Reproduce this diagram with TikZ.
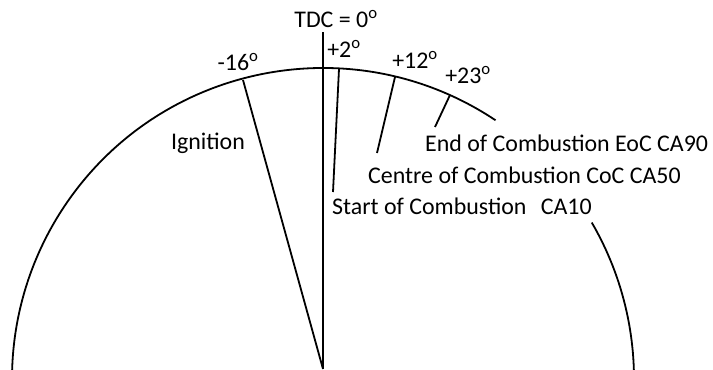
\documentclass[tikz,border=0pt]{standalone}
\usepackage{fontspec}
\setmainfont{Carlito}
\usepackage{tikz}
\usetikzlibrary{positioning,calc}

\tikzset{
  crank/.style={line width=1.8bp, black},
  lbl/.style={font=\fontsize{24}{26}\selectfont, inner sep=1bp},
  phase/.style={lbl, anchor=west}
}
\newcommand{\dg}{\textsuperscript{o}}

\begin{document}
\begin{tikzpicture}[x=1bp,y=1bp]
	\useasboundingbox (0,0) rectangle (713,369);
	\clip (0,0) rectangle (713,369);
	% crank circle (broken behind the labels) and TDC axis
	\coordinate (centre) at (323,-10);
	\coordinate (pivot) at (323,0);
	\coordinate (tdc) at (323,337);
	\draw[crank] (centre) ++(56.3:311) arc[start angle=56.3, end angle=182, radius=311];
	\draw[crank] (centre) ++(-5:311) arc[start angle=-5, end angle=30.2, radius=311];
	\draw[crank] (pivot) -- (tdc);
	% ignition
	\coordinate (ign) at (243,289);
	\draw[crank] (pivot) -- (ign);
	% combustion marks
	\coordinate (soca) at (339,300);
	\coordinate (socb) at (333,177);
	\coordinate (coca) at (395,292);
	\coordinate (cocb) at (377,216);
	\coordinate (eoca) at (450,274);
	\coordinate (eocb) at (435,242);
	\draw[crank] (soca) -- (socb);
	\draw[crank] (coca) -- (cocb);
	\draw[crank] (eoca) -- (eocb);
	% labels
	\node[lbl] (tdclbl) at (336,350) {TDC = 0\dg};
	\node[lbl] (ignang) at (238,307) {-16\dg};
	\node[lbl] (socang) at (344,320) {+2\dg};
	\node[lbl] (cocang) at (415,309) {+12\dg};
	\node[lbl] (eocang) at (468,294) {+23\dg};
	\node[lbl] (ignlbl) at (208,226) {Ignition};
	\node[phase] (eoc) at (424,226) {End of Combustion EoC CA90};
	\node[phase] (coc) at (367,194) {Centre of Combustion CoC CA50};
	\node[phase] (soc) at (331,163) {Start of Combustion\hspace{0.6em}CA10};
\end{tikzpicture}
\end{document}
